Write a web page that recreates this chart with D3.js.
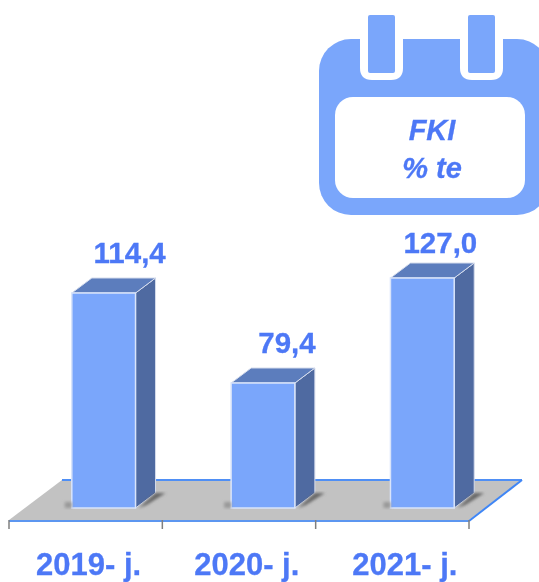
<!DOCTYPE html>
<html>
<head>
<meta charset="utf-8">
<script src="https://cdn.jsdelivr.net/npm/d3@7"></script>
<style>
    html, body { margin: 0; padding: 0; background: #fff; }
    svg { display: block; }
    text { font-family: "Liberation Sans", Arial, sans-serif; font-weight: bold; fill: #4d78f6; stroke: #4d78f6; stroke-width: 0.3px; }
</style>
</head>
<body>
<svg id="chart" width="539" height="582"></svg>
<script>
const categories = ["2019- j.", "2020- j.", "2021- j."];
const values = [114.4, 79.4, 127.0];
const valueLabels = ["114,4", "79,4", "127,0"];
const badgeLines = ["FKI", "% te"];

const svg = d3.select("#chart");

const defs = svg.append("defs");
defs.append("filter").attr("id", "soft")
    .append("feGaussianBlur").attr("stdDeviation", 0.5);
defs.append("filter").attr("id", "shadow")
    .append("feGaussianBlur").attr("stdDeviation", 1.4);

const baseY = 508;
const depthX = 20;
const depthY = 15;

// Axis scale runs along the front edge of the floor
const xAxis = d3.scaleBand().domain(categories).range([9, 469]);
const xBars = d3.scaleBand().domain(categories).range([24, 502]).paddingInner(0.6).paddingOuter(0.3);
const xLabels = d3.scaleBand().domain(categories).range([9.5, 484]);

// The bars in the original are not proportional to their labels,
// so the scale goes through the heights
const y = d3.scaleLinear().domain([0, 79.4, 114.4, 127]).range([baseY, 383, 293, 278]);

const poly = pts => pts.map(p => p.join(",")).join(" ");
const art = svg.append("g").attr("filter", "url(#soft)");

// Floor
const floorLeft = xAxis.range()[0], floorRight = xAxis.range()[1];
const floorTop = 480, floorBottom = 520;
art.append("polygon")
    .attr("points", poly([[floorLeft, floorBottom], [floorLeft + 53, floorTop], [floorRight + 53, floorTop], [floorRight, floorBottom]]))
    .attr("fill", "#c2c2c2");

art.append("line")
    .attr("x1", floorLeft + 53).attr("x2", floorRight + 53)
    .attr("y1", floorTop).attr("y2", floorTop)
    .attr("stroke", "#4f8ff5").attr("stroke-width", 2);
art.append("line")
    .attr("x1", floorRight).attr("x2", floorRight + 53)
    .attr("y1", floorBottom + 1).attr("y2", floorTop)
    .attr("stroke", "#3f86f5").attr("stroke-width", 2);
art.append("line")
    .attr("x1", floorLeft).attr("x2", floorRight)
    .attr("y1", floorBottom + 1).attr("y2", floorBottom + 1)
    .attr("stroke", "#5c96f0").attr("stroke-width", 2);

// Tick marks at the band edges
const tickPositions = categories.map(c => xAxis(c)).concat(floorRight);
art.selectAll(".tick-mark")
    .data(tickPositions)
    .enter().append("line")
    .attr("class", "tick-mark")
    .attr("x1", d => d).attr("x2", d => d)
    .attr("y1", floorBottom).attr("y2", floorBottom + 9)
    .attr("stroke", "#7f7f7f").attr("stroke-width", 1.5);

// Shadows on the floor
const shadows = svg.append("g").attr("filter", "url(#shadow)");
categories.forEach(c => {
    const x1 = xBars(c) + xBars.bandwidth();
    shadows.append("polygon")
        .attr("points", poly([[x1 + 3, baseY], [x1 + depthX, baseY - depthY], [x1 + depthX + 10, baseY - depthY], [x1 + 11, baseY - 3]]))
        .attr("fill", "#666");
    shadows.append("rect")
        .attr("x", xBars(c) - 7).attr("y", baseY - 6)
        .attr("width", 7).attr("height", 6)
        .attr("fill", "#999");
});

// Bars
const bars = art.selectAll(".bar")
    .data(values)
    .enter().append("g")
    .attr("class", "bar");

bars.append("polygon")
    .attr("points", (d, i) => {
        const x1 = xBars(categories[i]) + xBars.bandwidth();
        return poly([[x1, y(d)], [x1 + depthX, y(d) - depthY], [x1 + depthX, baseY - depthY], [x1, baseY]]);
    })
    .attr("fill", "#4f6aa1")
    .attr("stroke", "#d5dcec").attr("stroke-width", 1);

bars.append("polygon")
    .attr("points", (d, i) => {
        const x0 = xBars(categories[i]), x1 = x0 + xBars.bandwidth();
        return poly([[x0, y(d)], [x0 + depthX, y(d) - depthY], [x1 + depthX, y(d) - depthY], [x1, y(d)]]);
    })
    .attr("fill", "#5b7dbd")
    .attr("stroke", "#d5dcec").attr("stroke-width", 1);

bars.append("rect")
    .attr("x", (d, i) => xBars(categories[i]))
    .attr("y", d => y(d))
    .attr("width", xBars.bandwidth())
    .attr("height", d => baseY - y(d))
    .attr("fill", "#7aa6fb")
    .attr("stroke", "#d9e4fa").attr("stroke-width", 1.5);

// Value labels sit a little off the bar centre, as in the original
const labelShiftX = [26, 24, 18];
const labelShiftY = [30, 30, 25];
const labels = svg.append("g").attr("filter", "url(#soft)");

labels.selectAll(".value-label")
    .data(values)
    .enter().append("text")
    .attr("class", "value-label")
    .attr("x", (d, i) => xBars(categories[i]) + xBars.bandwidth() / 2 + labelShiftX[i])
    .attr("y", (d, i) => y(d) - labelShiftY[i])
    .attr("text-anchor", "middle")
    .style("font-size", "29.5px")
    .text((d, i) => valueLabels[i]);

labels.selectAll(".category-label")
    .data(categories)
    .enter().append("text")
    .attr("class", "category-label")
    .attr("x", d => xLabels(d) + xLabels.bandwidth() / 2)
    .attr("y", 575)
    .attr("text-anchor", "middle")
    .style("font-size", "31px")
    .text(d => d);

// Calendar badge
const badge = svg.append("g").attr("filter", "url(#soft)");
badge.append("rect")
    .attr("x", 319).attr("y", 39).attr("width", 230).attr("height", 176).attr("rx", 32)
    .attr("fill", "#7aa6fb");
badge.append("rect")
    .attr("x", 335).attr("y", 97).attr("width", 190).attr("height", 101).attr("rx", 18)
    .attr("fill", "#fff");

[360, 460].forEach(x => {
    badge.append("path")
        .attr("d", `M${x},30 H${x + 43} V68 Q${x + 43},80 ${x + 31},80 H${x + 12} Q${x},80 ${x},68 Z`)
        .attr("fill", "#fff");
    badge.append("rect")
        .attr("x", x + 8).attr("y", 15).attr("width", 27).attr("height", 58).attr("rx", 2)
        .attr("fill", "#7aa6fb");
});

labels.selectAll(".badge-line")
    .data(badgeLines)
    .enter().append("text")
    .attr("class", "badge-line")
    .attr("x", 432)
    .attr("y", (d, i) => 140 + i * 38)
    .attr("text-anchor", "middle")
    .style("font-size", "29px")
    .style("font-style", "italic")
    .text(d => d);

// Keep the text above the badge
labels.raise();
</script>
</body>
</html>
